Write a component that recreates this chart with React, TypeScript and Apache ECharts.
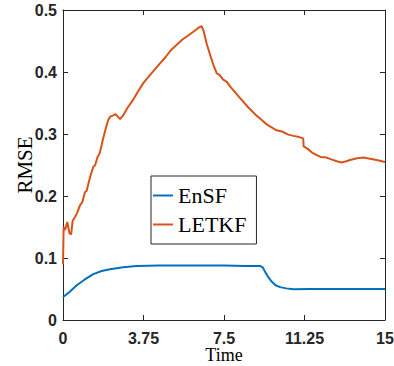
import React, { useEffect, useRef } from "react";
import * as echarts from "echarts";

const xTicks = [0, 3.75, 7.5, 11.25, 15];
const yTicks = [0, 0.1, 0.2, 0.3, 0.4, 0.5];

const ensfTime = [0, 0.3, 0.64, 1.0, 1.41, 1.8, 2.19, 2.8, 3.43, 4.5, 6.07, 7.5, 8.5, 9.2, 9.3, 9.41, 9.55, 9.72, 9.9, 10.11, 10.4, 10.73, 11.5, 13, 15];
const ensfRmse = [0.037, 0.045, 0.056, 0.065, 0.074, 0.079, 0.082, 0.085, 0.087, 0.088, 0.088, 0.088, 0.087, 0.087, 0.085, 0.078, 0.07, 0.062, 0.056, 0.053, 0.051, 0.0495, 0.05, 0.05, 0.05];

const letkfTime = [0, 0.03, 0.1, 0.2, 0.3, 0.38, 0.45, 0.56, 0.65, 0.79, 0.9, 1.02, 1.1, 1.2, 1.3, 1.41, 1.5, 1.6, 1.72, 1.85, 2.0, 2.11, 2.2, 2.34, 2.45, 2.55, 2.66, 2.8, 3.0, 3.26, 3.5, 3.74, 4.0, 4.25, 4.52, 4.8, 5.05, 5.3, 5.55, 5.8, 6.07, 6.3, 6.46, 6.55, 6.69, 6.85, 7.0, 7.16, 7.3, 7.45, 7.63, 7.8, 8.0, 8.2, 8.4, 8.6, 8.8, 9.0, 9.18, 9.4, 9.6, 9.95, 10.2, 10.5, 10.73, 11.0, 11.19, 11.21, 11.4, 11.6, 11.82, 12.0, 12.28, 12.5, 12.75, 12.98, 13.2, 13.37, 13.7, 13.99, 14.3, 14.61, 15];
const letkfRmse = [0.09, 0.15, 0.145, 0.158, 0.14, 0.138, 0.16, 0.166, 0.172, 0.185, 0.19, 0.206, 0.208, 0.222, 0.235, 0.247, 0.25, 0.262, 0.27, 0.29, 0.31, 0.323, 0.328, 0.33, 0.332, 0.328, 0.324, 0.33, 0.342, 0.355, 0.369, 0.382, 0.393, 0.403, 0.414, 0.425, 0.436, 0.444, 0.452, 0.458, 0.465, 0.471, 0.474, 0.466, 0.446, 0.428, 0.412, 0.398, 0.395, 0.388, 0.384, 0.376, 0.368, 0.36, 0.352, 0.344, 0.337, 0.33, 0.325, 0.318, 0.313, 0.306, 0.304, 0.299, 0.297, 0.295, 0.293, 0.28, 0.276, 0.27, 0.266, 0.263, 0.262, 0.259, 0.256, 0.254, 0.256, 0.258, 0.261, 0.262, 0.26, 0.258, 0.255];

const seriesNames = ["EnSF", "LETKF"];
const seriesColors = ["#0072BD", "#D95319"];

const axisColor = "#262626";
const tickFont = { fontFamily: "Liberation Sans, Arial, sans-serif", fontWeight: "bold" as const, fontSize: 16, color: axisColor };
const serif = "Liberation Serif, Times New Roman, serif";

export default function App() {
  const ref = useRef<HTMLDivElement>(null);
  useEffect(() => {
    if (!ref.current) return;
    const chart = echarts.init(ref.current, undefined, { renderer: "svg" });
    const xMin = xTicks[0], xMax = xTicks[xTicks.length - 1];
    const yMin = yTicks[0], yMax = yTicks[yTicks.length - 1];
    const xInt = xTicks[1] - xTicks[0];
    const yInt = 0.1;
    const common = { axisLine: { show: true, onZero: false, lineStyle: { color: axisColor, width: 1 } }, splitLine: { show: false } };
    const tick = { show: true, inside: true, length: 5, lineStyle: { color: axisColor } };
    chart.setOption({
      animation: false,
      backgroundColor: "#ffffff",
      grid: { left: 63, right: 9, top: 10, bottom: 46, show: false, containLabel: false, outerBoundsMode: "none" },
      legend: {
        orient: "vertical",
        left: 151,
        top: 176,
        padding: [5, 10, 5, 2],
        itemGap: 0,
        itemWidth: 20,
        itemHeight: 2,
        icon: "rect",
        borderColor: axisColor,
        borderWidth: 1,
        backgroundColor: "#ffffff",
        textStyle: { fontFamily: serif, fontSize: 22, color: "#000", lineHeight: 29 },
        data: seriesNames,
      },
      xAxis: [
        {
          type: "value", min: xMin, max: xMax, interval: xInt, position: "bottom",
          ...common,
          axisTick: tick,
          axisLabel: { ...tickFont, margin: 10, formatter: (v: number) => String(v) },
          name: "Time", nameLocation: "middle", nameGap: 29, nameMoveOverlap: false,
          nameTextStyle: { fontFamily: serif, fontSize: 18, lineHeight: 12, color: "#000" },
        },
        {
          type: "value", min: xMin, max: xMax, interval: xInt, position: "top",
          ...common,
          axisTick: tick,
          axisLabel: { show: false },
        },
      ],
      yAxis: [
        {
          type: "value", min: yMin, max: yMax, interval: yInt, position: "left",
          ...common,
          axisTick: tick,
          axisLabel: { ...tickFont, margin: 6, formatter: (v: number) => String(Math.round(v * 10) / 10) },
          name: "RMSE", nameLocation: "middle", nameGap: 28, nameMoveOverlap: false,
          nameTextStyle: { fontFamily: serif, fontSize: 21, color: "#000" },
        },
        {
          type: "value", min: yMin, max: yMax, interval: yInt, position: "right",
          ...common,
          axisTick: tick,
          axisLabel: { show: false },
        },
      ],
      series: [
        {
          name: seriesNames[0], type: "line", xAxisIndex: 0, yAxisIndex: 0,
          data: ensfTime.map((t, i) => [t, ensfRmse[i]]),
          showSymbol: false, symbol: "none",
          lineStyle: { color: seriesColors[0], width: 2 },
          itemStyle: { color: seriesColors[0] },
        },
        {
          name: seriesNames[1], type: "line", xAxisIndex: 0, yAxisIndex: 0,
          data: letkfTime.map((t, i) => [t, letkfRmse[i]]),
          showSymbol: false, symbol: "none",
          lineStyle: { color: seriesColors[1], width: 2 },
          itemStyle: { color: seriesColors[1] },
        },
      ],
    });
    return () => chart.dispose();
  }, []);
  return <div ref={ref} style={{ position: "fixed", left: 0, top: 0, width: 394, height: 366 }} />;
}
